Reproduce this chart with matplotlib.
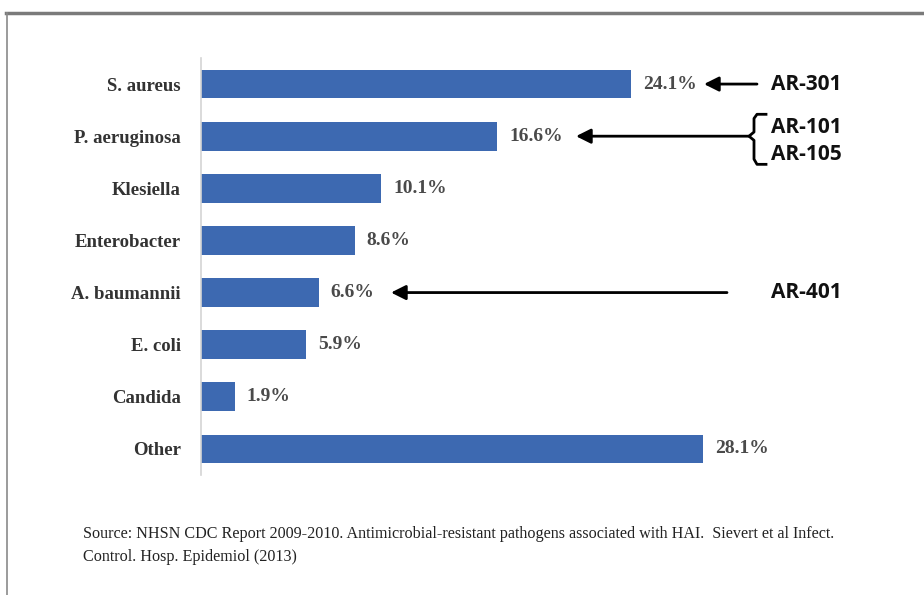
import matplotlib
matplotlib.use("Agg")
import matplotlib.pyplot as plt
from matplotlib.lines import Line2D

plt.rcParams["font.family"] = ["Liberation Serif", "DejaVu Serif"]

pathogens = ["S. aureus", "P. aeruginosa", "Klesiella", "Enterobacter",
             "A. baumannii", "E. coli", "Candida", "Other"]
shares = [24.1, 16.6, 10.1, 8.6, 6.6, 5.9, 1.9, 28.1]
source = ("Source: NHSN CDC Report 2009-2010. Antimicrobial-resistant pathogens "
          "associated with HAI.  Sievert et al Infect.\nControl. Hosp. Epidemiol (2013)")

W, H = 924, 595
fig = plt.figure(figsize=(W / 100, H / 100), dpi=100)
ax = fig.add_axes([201 / W, 1 - 475 / H, (905 - 201) / W, 417 / H])

ypos = list(range(len(pathogens)))
ax.barh(ypos, shares, height=0.55, color="#3d69b1")
ax.set_ylim(7.5, -0.5)
ax.set_xlim(0, (905 - 201) / 17.86)

ax.set_yticks(ypos)
ax.set_yticklabels(pathogens, fontsize=13.5, fontweight="bold", color="#333333")
ax.tick_params(axis="y", length=0, pad=14.5)
ax.set_xticks([])
for s in ["top", "right", "bottom"]:
    ax.spines[s].set_visible(False)
ax.spines["left"].set_color("#d4d4d4")
ax.spines["left"].set_linewidth(1.2)

for y, v in zip(ypos, shares):
    ax.annotate(f"{v}%", (v, y), xytext=(8.5, 0), textcoords="offset points",
                ha="left", va="center", fontsize=14, fontweight="bold",
                color="#4a4a4a")

# arrows pointing to the targeted pathogens
def px(x):
    return (x - 201) / 17.86

arrow = dict(arrowstyle="-|>", color="black", lw=2, mutation_scale=22,
             shrinkA=0, shrinkB=0)
ax.annotate("", xy=(px(704), 0), xytext=(px(757), 0), arrowprops=arrow,
            annotation_clip=False)
ax.annotate("", xy=(px(576), 1), xytext=(px(749), 1), arrowprops=arrow,
            annotation_clip=False)
ax.annotate("", xy=(px(391), 4), xytext=(px(727), 4), arrowprops=arrow,
            annotation_clip=False)

# curly bracket grouping AR-101 / AR-105
bx = [px(766), px(757), px(754), px(754), px(749), px(754), px(754), px(757), px(766)]
by = [0.58, 0.58, 0.66, 0.92, 1.0, 1.08, 1.44, 1.54, 1.54]
ax.plot(bx, by, color="black", lw=2, clip_on=False, solid_joinstyle="round")

sans = ["Open Sans", "DejaVu Sans"]
for label, y in [("AR-301", 0), ("AR-101", 0.83), ("AR-105", 1.36), ("AR-401", 4)]:
    ax.text(px(771), y, label, ha="left", va="center", fontsize=15,
            fontweight="bold", family=sans, color="#111111")

fig.text(83 / W, 1 - 526 / H, source, ha="left", va="top", fontsize=11.6,
         color="#222222", linespacing=1.55)

# page frame
fig.add_artist(Line2D([6 / W, 1], [1 - 13 / H, 1 - 13 / H], color="#7a7a7a",
                      lw=2.5, transform=fig.transFigure))
fig.add_artist(Line2D([7 / W, 7 / W], [0, 1 - 13 / H], color="#8a8a8a",
                      lw=1.2, transform=fig.transFigure))

fig.savefig("out.png", dpi=100)
